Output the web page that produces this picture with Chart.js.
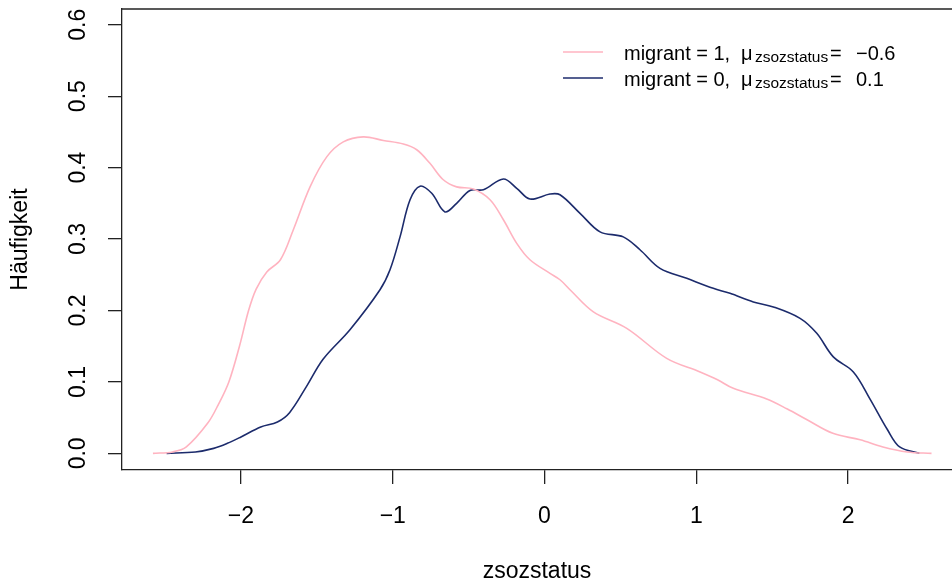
<!DOCTYPE html>
<html>
<head>
<meta charset="utf-8">
<script src="https://cdn.jsdelivr.net/npm/chart.js@4"></script>
<style>
  body { margin: 0; background: #fff; }
  canvas { display: block; }
</style>
</head>
<body>
<canvas id="densityChart" width="952" height="586"></canvas>
<script>
// density of zsozstatus
const pinkX = [-2.58, -2.45, -2.36, -2.22, -2.15, -2.08, -2.01, -1.95, -1.90, -1.83, -1.74, -1.655, -1.545, -1.435, -1.326, -1.194, -1.062, -0.93, -0.842, -0.755, -0.667, -0.579, -0.469, -0.359, -0.271, -0.183, -0.096, 0.036, 0.102, 0.168, 0.322, 0.542, 0.805, 1.025, 1.14, 1.244, 1.464, 1.6, 1.73, 1.9, 2.08, 2.23, 2.39, 2.55];
const pinkY = [0, 0.002, 0.009, 0.042, 0.068, 0.100, 0.150, 0.200, 0.230, 0.254, 0.271, 0.313, 0.373, 0.415, 0.436, 0.443, 0.438, 0.433, 0.425, 0.406, 0.383, 0.373, 0.370, 0.355, 0.327, 0.294, 0.271, 0.252, 0.243, 0.229, 0.198, 0.175, 0.133, 0.114, 0.103, 0.091, 0.076, 0.062, 0.047, 0.028, 0.019, 0.009, 0.002, 0];

const navyX = [-2.49, -2.30, -2.18, -2.09, -2.00, -1.87, -1.76, -1.68, -1.57, -1.458, -1.282, -1.084, -1.018, -0.952, -0.886, -0.82, -0.743, -0.656, -0.579, -0.491, -0.403, -0.271, -0.183, -0.096, 0.036, 0.102, 0.234, 0.366, 0.519, 0.629, 0.761, 0.937, 1.112, 1.222, 1.376, 1.508, 1.684, 1.794, 1.903, 2.035, 2.145, 2.26, 2.34, 2.47];
const navyY = [0, 0.002, 0.007, 0.014, 0.023, 0.037, 0.044, 0.057, 0.093, 0.132, 0.173, 0.229, 0.257, 0.303, 0.355, 0.374, 0.364, 0.338, 0.350, 0.368, 0.369, 0.384, 0.371, 0.356, 0.363, 0.362, 0.336, 0.310, 0.303, 0.285, 0.259, 0.245, 0.231, 0.224, 0.212, 0.205, 0.189, 0.168, 0.135, 0.114, 0.076, 0.033, 0.009, 0];

const xTicks = [-2, -1, 0, 1, 2];
const xTickLabels = ['\u22122', '\u22121', '0', '1', '2'];
const yTicks = [0, 0.1, 0.2, 0.3, 0.4, 0.5, 0.6];
const yTickLabels = ['0.0', '0.1', '0.2', '0.3', '0.4', '0.5', '0.6'];

const seriesLabels = ['migrant = 1, ', 'migrant = 0, '];
const meanLabels = ['\u22120.6', '0.1'];
const pinkColor = '#ffb3c0';
const navyColor = '#1c2b6c';

const FONT = '"Liberation Sans", Arial, Helvetica, sans-serif';

let toPoints = (xs, ys) => xs.map((x, i) => ({ x: x, y: ys[i] }));

// R draws a box round the plot; the right side is cut off by the picture
const boxPlugin = {
    id: 'rbox',
    afterDraw(chart) {
        const { ctx, chartArea } = chart;
        ctx.save();
        ctx.strokeStyle = '#222';
        ctx.lineWidth = 1.3;
        ctx.beginPath();
        ctx.moveTo(chartArea.left, chartArea.top);
        ctx.lineTo(chartArea.right, chartArea.top);
        ctx.stroke();
        ctx.restore();
    }
};

// legend with the subscript mu, like plotmath
const legendPlugin = {
    id: 'rlegend',
    afterDraw(chart) {
        const ctx = chart.ctx;
        const colors = [pinkColor, navyColor];
        ctx.save();
        for (let i = 0; i < 2; i++) {
            const ly = 52 + i * 26;
            const base = 59.5 + i * 26;
            ctx.strokeStyle = colors[i];
            ctx.lineWidth = 1.6;
            ctx.beginPath();
            ctx.moveTo(563, ly);
            ctx.lineTo(603, ly);
            ctx.stroke();

            ctx.fillStyle = '#000';
            ctx.textBaseline = 'alphabetic';
            ctx.textAlign = 'left';
            ctx.font = '20px ' + FONT;
            ctx.fillText(seriesLabels[i], 624, base);
            ctx.fillText('\u03bc', 741, base);
            ctx.font = '15.5px ' + FONT;
            ctx.fillText('zsozstatus', 755, base + 2.5);
            ctx.font = '20px ' + FONT;
            ctx.fillText('=', 830, base);
            ctx.fillText(meanLabels[i], 856, base);
        }
        ctx.restore();
    }
};

new Chart(document.getElementById('densityChart'), {
    type: 'line',
    data: {
        datasets: [
            {
                label: 'migrant = 1',
                data: toPoints(pinkX, pinkY),
                borderColor: pinkColor,
                borderWidth: 1.6,
                pointRadius: 0,
                tension: 0.35,
                fill: false
            },
            {
                label: 'migrant = 0',
                data: toPoints(navyX, navyY),
                borderColor: navyColor,
                borderWidth: 1.6,
                pointRadius: 0,
                tension: 0.35,
                fill: false
            }
        ]
    },
    options: {
        responsive: false,
        animation: false,
        devicePixelRatio: 1,
        layout: { padding: { top: 9, right: 0, left: 0, bottom: 0 } },
        plugins: {
            legend: { display: false },
            tooltip: { enabled: false }
        },
        scales: {
            x: {
                type: 'linear',
                position: 'bottom',
                min: -2.784,
                max: 2.685,
                afterBuildTicks: (scale) => { scale.ticks = xTicks.map(v => ({ value: v })); },
                afterFit: (scale) => {
                    scale.height = 116;
                    scale.paddingLeft = 0;
                    scale.paddingRight = 0;
                },
                grid: { drawOnChartArea: false, drawTicks: true, tickLength: 14, color: '#222', lineWidth: 1.3 },
                border: { display: true, color: '#222', width: 1.3 },
                ticks: {
                    maxRotation: 0,
                    autoSkip: false,
                    padding: 19,
                    color: '#000',
                    font: { family: FONT, size: 23 },
                    callback: (value) => xTickLabels[xTicks.indexOf(value)]
                },
                title: {
                    display: true,
                    text: 'zsozstatus',
                    color: '#000',
                    font: { family: FONT, size: 23 },
                    padding: { top: 0, bottom: 1 }
                }
            },
            y: {
                type: 'linear',
                min: -0.0233,
                max: 0.622,
                afterBuildTicks: (scale) => { scale.ticks = yTicks.map(v => ({ value: v })); },
                afterFit: (scale) => {
                    scale.width = 122;
                    scale.paddingTop = 0;
                    scale.paddingBottom = 0;
                },
                grid: { drawOnChartArea: false, drawTicks: true, tickLength: 14, color: '#222', lineWidth: 1.3 },
                border: { display: true, color: '#222', width: 1.3 },
                ticks: {
                    minRotation: 90,
                    maxRotation: 90,
                    crossAlign: 'center',
                    autoSkip: false,
                    padding: 13,
                    color: '#000',
                    font: { family: FONT, size: 23 },
                    callback: (value) => yTickLabels[yTicks.indexOf(value)]
                },
                title: {
                    display: true,
                    text: 'Häufigkeit',
                    color: '#000',
                    font: { family: FONT, size: 23 },
                    padding: { top: 7, bottom: 0 }
                }
            }
        }
    },
    plugins: [boxPlugin, legendPlugin]
});
</script>
</body>
</html>
